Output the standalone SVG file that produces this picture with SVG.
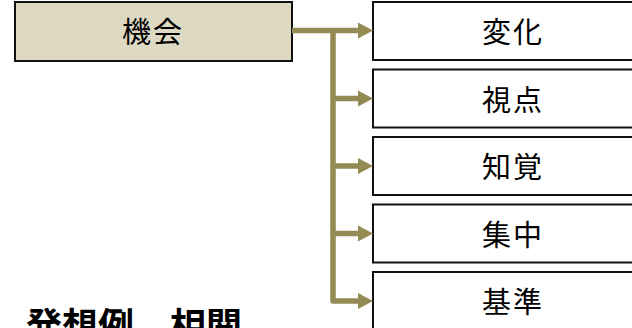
<svg xmlns="http://www.w3.org/2000/svg" width="632" height="328" viewBox="0 0 632 328">
<style>
.box{fill:#ffffff;stroke:#111111;stroke-width:2}
.main{fill:#DDD9C3;stroke:#111111;stroke-width:2}
.lbl{font-family:"Noto Sans CJK JP",sans-serif;font-size:29px;font-weight:normal;fill:#000;text-anchor:middle;letter-spacing:2px}
.title{font-family:"Noto Sans CJK JP",sans-serif;font-size:36px;font-weight:bold;fill:#000}
.conn{fill:none;stroke:#948A54;stroke-width:5.5;stroke-linejoin:round}
</style>
<defs>
<marker id="ah" markerUnits="userSpaceOnUse" markerWidth="16" markerHeight="18" refX="0" refY="9" orient="auto">
<polygon points="0,1 15,9 0,17" fill="#948A54"/>
</marker>
</defs>
<g id="node-kikai">
<rect class="main" x="15" y="2" width="277" height="59"/>
<text class="lbl" x="153" y="43">機会</text>
</g>
<g id="node-henka">
<rect class="box" x="373" y="2" width="280" height="58"/>
<text class="lbl" x="513" y="43">変化</text>
</g>
<g id="node-shiten">
<rect class="box" x="373" y="69.5" width="280" height="58"/>
<text class="lbl" x="513" y="110.5">視点</text>
</g>
<g id="node-chikaku">
<rect class="box" x="373" y="137" width="280" height="58"/>
<text class="lbl" x="513" y="178">知覚</text>
</g>
<g id="node-shuchu">
<rect class="box" x="373" y="204.5" width="280" height="58"/>
<text class="lbl" x="513" y="245.5">集中</text>
</g>
<g id="node-kijun">
<rect class="box" x="373" y="272" width="280" height="58"/>
<text class="lbl" x="513" y="313">基準</text>
</g>
<g id="connectors">
<path class="conn" d="M292,30.5 H358" marker-end="url(#ah)"/>
<path class="conn" d="M333,30.5 V301 H358" marker-end="url(#ah)"/>
<path class="conn" d="M333,98.5 H358" marker-end="url(#ah)"/>
<path class="conn" d="M333,166 H358" marker-end="url(#ah)"/>
<path class="conn" d="M333,233.5 H358" marker-end="url(#ah)"/>
</g>
<text class="title" x="26" y="339">発想例　相関</text>
</svg>
